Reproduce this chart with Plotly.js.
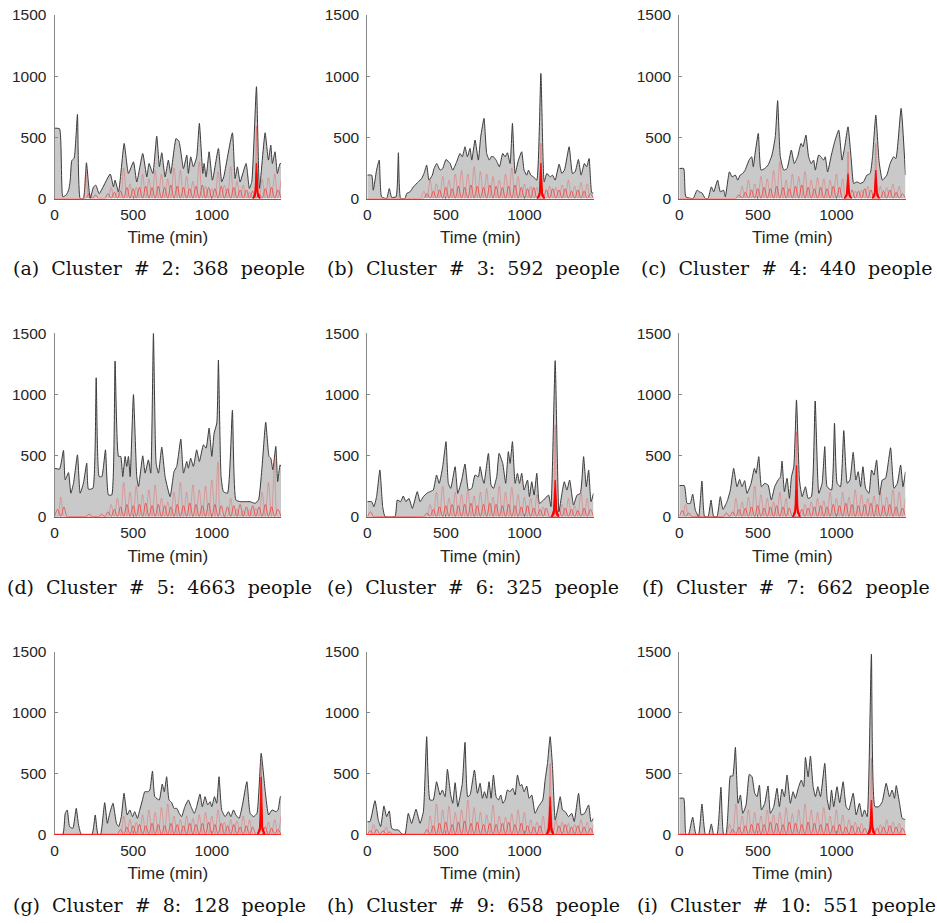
<!DOCTYPE html>
<html><head><meta charset="utf-8">
<script src="https://cdn.plot.ly/plotly-3.0.1.min.js"></script>
<style>html,body{margin:0;padding:0;background:#fff}#chart{width:937px;height:923px}</style>
</head><body><div id="chart"></div>
<script>
// ---------- data ----------
const captionLetters = ['a','b','c','d','e','f','g','h','i'];
const clusterIds = [2,3,4,5,6,7,8,9,10];
const peopleCounts = [368,592,440,4663,325,662,128,658,551];
const xTickVals = [0,500,1000];
const yTickVals = [0,500,1000,1500];

// total occupancy envelope (grey area) per cluster
const envX_a = [0,32,53,75,90,100,110,125,146,163,184,203,227,248,263,284,354,375,385,407,443,470,502,523,561,587,601,625,650,667,682,703,724,739,773,792,820,841,851,866,883,904,921,943,951,964,983,1004,1042,1063,1076,1131,1148,1163,1180,1218,1239,1254,1284,1303,1339,1360,1375,1385,1402,1417,1434,1440];
const envY_a = [575,570,15,30,70,150,310,330,687,0,0,292,0,95,109,40,200,95,150,55,450,205,300,136,368,177,286,205,510,260,374,177,314,205,491,464,245,355,205,341,259,341,614,205,286,177,382,150,409,136,177,537,164,259,136,286,82,136,914,82,537,314,436,286,382,205,286,286];
const envX_b = [0,28,38,59,76,91,123,140,155,183,198,212,240,251,272,293,325,346,361,378,393,414,425,442,463,480,501,527,544,569,590,605,622,637,654,665,686,707,722,743,760,777,788,803,820,841,862,877,892,909,924,941,962,983,998,1015,1026,1041,1058,1079,1105,1126,1143,1164,1179,1196,1221,1238,1255,1285,1306,1323,1344,1361,1382,1397,1412,1429,1440];
const envY_b = [191,191,68,232,314,14,0,82,10,14,374,0,0,41,55,95,136,164,205,273,150,191,245,286,232,245,319,286,232,300,368,341,423,341,409,314,477,314,505,655,368,314,341,341,314,259,368,341,374,286,614,205,314,382,232,191,232,191,177,150,1023,136,205,177,191,150,281,205,232,423,205,218,319,191,286,259,327,46,46];
const envX_c = [0,28,42,88,113,127,144,166,183,204,219,244,261,282,293,319,336,357,372,387,404,419,444,461,471,482,503,520,544,565,590,611,626,643,665,686,713,732,753,775,787,806,823,840,855,866,887,902,919,929,944,968,989,1015,1036,1053,1074,1095,1110,1131,1152,1173,1194,1215,1230,1251,1272,1293,1321,1342,1364,1379,1412,1440];
const envY_c = [245,245,14,0,68,55,46,0,0,95,55,150,55,68,14,218,177,191,150,191,205,232,314,341,259,363,532,232,245,273,355,505,800,341,232,245,396,286,341,450,423,518,341,286,314,232,355,341,314,341,218,355,464,559,314,423,586,314,123,136,123,136,191,205,341,682,300,150,191,286,341,327,736,191];
const envX_d = [0,32,57,68,89,104,121,146,163,184,205,216,244,265,284,301,324,343,364,385,407,421,434,449,459,470,481,502,523,534,561,576,597,612,629,646,661,682,703,735,760,777,803,820,841,851,866,883,904,921,947,964,983,1000,1015,1032,1042,1059,1074,1100,1131,1153,1180,1212,1244,1275,1297,1318,1343,1364,1375,1388,1407,1419,1434,1440];
const envY_d = [397,389,542,301,361,192,274,506,192,274,438,224,233,1136,328,328,547,178,178,1273,493,493,328,493,411,493,328,999,328,246,498,356,465,356,1500,438,356,569,328,164,369,411,635,356,452,397,479,411,547,452,588,561,725,493,684,766,1281,328,205,192,870,137,123,123,123,109,137,383,772,493,479,383,575,287,424,411];
const envX_e = [0,28,42,59,80,98,113,176,191,212,229,246,265,287,318,336,357,378,399,420,441,458,480,501,516,531,559,576,601,622,644,665,686,707,718,733,743,771,788,803,824,839,862,881,898,909,924,941,956,969,983,998,1020,1032,1047,1062,1079,1096,1122,1154,1169,1196,1220,1239,1254,1271,1288,1313,1335,1356,1377,1394,1409,1424,1440];
const envY_e = [123,123,82,164,382,82,0,0,136,123,169,123,150,68,205,123,164,191,205,218,341,273,409,614,273,232,409,191,300,431,218,232,341,327,409,314,273,518,259,232,327,518,436,273,532,436,614,273,355,273,355,218,300,164,286,177,355,109,136,177,82,1276,41,191,286,218,300,95,177,191,491,245,382,123,191];
const envX_f = [0,32,49,70,85,102,123,144,161,183,202,219,240,261,278,304,325,346,367,384,399,416,431,457,478,489,506,523,544,565,586,607,629,644,654,669,686,701,714,729,746,765,782,803,820,841,865,888,909,926,941,969,988,1005,1026,1047,1069,1086,1107,1124,1139,1154,1169,1186,1207,1224,1239,1256,1275,1292,1313,1345,1367,1388,1409,1424,1440];
const envY_f = [254,254,109,109,185,55,0,292,0,0,136,0,0,164,60,123,218,395,245,305,245,295,191,273,395,355,491,245,273,259,136,245,300,327,455,205,314,150,327,409,955,300,164,245,150,164,946,191,273,573,245,218,764,273,245,704,273,300,527,300,368,245,409,232,191,382,341,464,177,300,314,564,232,273,423,245,368];
const envX_g = [0,53,68,81,96,117,138,153,170,238,259,276,293,319,336,351,372,394,408,425,442,462,479,496,510,527,542,559,574,596,606,623,638,666,685,698,713,728,745,760,777,793,808,829,851,868,889,904,925,940,957,974,989,1000,1017,1031,1046,1063,1085,1106,1121,1138,1153,1174,1195,1223,1244,1266,1287,1314,1340,1361,1383,1408,1421,1436,1440];
const envY_g = [0,0,172,200,63,49,213,77,0,0,159,0,0,260,90,172,255,90,63,145,337,159,200,145,186,131,200,282,350,350,364,520,309,282,413,350,473,282,260,213,213,172,145,227,282,227,172,227,331,227,309,241,268,227,309,255,473,200,145,186,145,200,159,131,241,432,172,145,172,665,350,159,200,186,200,309,309];
const envX_h = [0,17,49,70,85,106,123,140,155,176,198,212,225,240,261,282,310,336,357,378,399,420,441,463,478,495,510,531,544,559,576,590,605,622,639,654,682,701,718,733,746,760,775,788,803,820,835,850,863,877,892,909,926,941,956,973,983,998,1015,1030,1047,1068,1089,1117,1132,1147,1164,1179,1196,1211,1228,1243,1260,1281,1302,1317,1345,1362,1383,1409,1424,1440];
const envY_h = [104,104,276,118,63,233,145,192,49,36,36,14,0,0,172,90,205,90,186,802,282,282,432,323,364,309,534,323,255,424,227,309,419,755,309,323,528,337,419,296,350,296,432,296,487,309,282,323,255,282,364,350,378,323,487,396,410,350,396,296,323,172,227,282,446,583,802,555,118,200,309,200,186,145,172,104,337,159,172,241,104,131];
const envX_i = [0,28,42,59,85,106,123,144,166,187,204,219,240,265,282,297,314,325,340,357,374,389,404,425,446,463,480,495,510,523,544,565,580,601,622,637,654,669,686,707,724,739,760,777,792,803,820,835,852,867,882,899,926,941,956,969,983,1004,1021,1043,1062,1079,1107,1126,1147,1164,1179,1196,1223,1245,1270,1292,1317,1338,1355,1370,1381,1402,1419,1434,1440];
const envY_i = [296,296,0,0,140,0,0,249,0,0,85,0,0,386,0,0,282,479,479,714,255,323,172,241,493,473,337,309,405,200,255,397,172,227,378,227,372,309,487,255,350,296,391,446,391,632,473,643,391,309,391,309,583,296,200,364,227,391,260,432,227,200,337,159,255,145,200,145,1481,227,227,268,419,309,364,296,400,255,131,123,123];

// individual trajectories (red lines), sampled every 20 min
const redX = [0,20,40,60,80,100,120,140,160,180,200,220,240,260,280,300,320,340,360,380,400,420,440,460,480,500,520,540,560,580,600,620,640,660,680,700,720,740,760,780,800,820,840,860,880,900,920,940,960,980,1000,1020,1040,1060,1080,1100,1120,1140,1160,1180,1200,1220,1240,1260,1280,1300,1320,1340,1360,1380,1400,1420,1440];
const redLow_a = [0,0,0,0,0,0,0,0,0,0,0,40,0,30,0,0,0,40,0,50,0,60,0,90,0,80,0,90,0,100,0,90,0,100,0,90,0,110,0,100,0,90,0,80,0,100,0,110,0,90,0,80,0,100,0,80,0,90,0,70,0,70,0,60,0,40,0,80,0,90,0,70,0];
const redMid_a = [0,0,0,0,0,0,0,0,0,0,220,0,0,0,0,0,0,0,90,0,60,0,250,0,120,0,90,0,200,0,160,0,230,0,200,0,160,0,250,0,230,0,180,0,140,0,300,0,100,0,80,0,220,0,110,0,260,0,140,0,110,0,50,0,0,0,160,0,170,0,200,0,150];
const redLow_b = [0,0,0,0,0,0,0,0,0,0,0,0,0,0,0,0,0,0,0,40,0,60,0,70,0,90,0,80,0,100,0,90,0,110,0,100,0,90,0,110,0,100,0,90,0,100,0,110,0,90,0,80,0,90,0,0,0,70,0,80,0,70,0,80,0,60,0,70,0,60,0,40,0];
const redMid_b = [0,0,0,0,0,0,0,0,0,0,0,0,0,0,0,0,0,0,60,0,150,0,120,0,180,0,150,0,200,0,230,0,200,0,260,0,220,0,200,0,180,0,150,0,200,0,250,0,180,0,120,0,100,0,90,0,0,0,100,0,90,0,110,0,150,0,100,0,130,0,120,0,0];
const redLow_c = [0,0,0,0,0,0,0,0,0,0,0,0,0,0,0,0,0,0,0,30,0,50,0,70,0,80,0,90,0,80,0,100,0,90,0,80,0,100,0,110,0,90,0,80,0,90,0,80,0,100,0,90,0,0,0,70,0,60,0,80,0,70,0,0,0,60,0,70,0,50,0,40,0];
const redMid_c = [0,0,0,0,0,0,0,0,0,0,0,0,0,0,0,0,0,0,0,0,100,0,150,0,120,0,180,0,160,0,230,0,300,0,150,0,200,0,180,0,220,0,150,0,170,0,160,0,150,0,200,0,160,0,0,0,60,0,70,0,100,0,0,0,100,0,90,0,120,0,100,0,0];
const redLow_d = [0,60,0,80,0,0,0,0,0,0,0,20,0,0,0,20,0,40,0,60,0,80,0,100,0,90,0,100,0,110,0,90,0,100,0,90,0,80,0,100,0,90,0,110,0,100,0,90,0,110,0,100,0,90,0,80,0,90,0,100,0,80,0,90,0,80,0,100,0,80,0,60,0];
const redMid_d = [0,0,160,0,0,0,0,0,0,0,0,0,0,0,0,0,0,0,100,0,150,0,280,0,200,0,250,0,180,0,220,0,260,0,150,0,120,0,200,0,280,0,200,0,260,0,220,0,250,0,300,0,450,0,0,0,150,0,60,0,50,0,60,0,70,0,200,0,280,0,480,0,0];
const redLow_e = [0,40,0,0,0,0,0,0,0,0,0,0,0,0,0,0,0,0,0,30,0,60,0,80,0,90,0,100,0,90,0,100,0,110,0,90,0,100,0,110,0,100,0,90,0,100,0,90,0,80,0,90,0,70,0,60,0,70,0,0,0,60,0,70,0,60,0,50,0,70,0,60,0];
const redMid_e = [0,0,0,0,0,0,0,0,0,0,0,0,0,0,0,0,0,0,0,0,100,0,200,0,250,0,150,0,200,0,180,0,220,0,170,0,200,0,230,0,160,0,250,0,200,0,240,0,180,0,160,0,150,0,180,0,80,0,0,0,0,0,100,0,150,0,90,0,200,0,150,0,0];
const redLow_f = [0,50,0,30,0,0,0,0,0,0,0,0,0,0,0,30,0,40,0,60,0,70,0,80,0,90,0,70,0,80,0,90,0,80,0,70,0,0,0,60,0,70,0,80,0,90,0,80,0,100,0,90,0,110,0,100,0,90,0,100,0,110,0,100,0,90,0,100,0,80,0,70,0];
const redMid_f = [0,0,100,0,0,0,0,0,0,0,0,0,0,0,0,0,0,0,150,0,120,0,160,0,250,0,180,0,150,0,120,0,200,0,150,0,0,0,0,0,100,0,120,0,150,0,130,0,200,0,150,0,200,0,160,0,220,0,180,0,150,0,170,0,200,0,160,0,220,0,200,0,150];
const redLow_g = [0,0,0,0,0,0,0,0,0,0,0,0,0,0,0,0,0,0,0,0,0,40,0,60,0,70,0,80,0,70,0,90,0,80,0,70,0,90,0,80,0,70,0,90,0,80,0,90,0,100,0,80,0,90,0,70,0,80,0,60,0,70,0,60,0,0,0,60,0,50,0,40,0];
const redMid_g = [0,0,0,0,0,0,0,0,0,0,0,0,0,0,0,0,0,0,0,0,0,0,150,0,120,0,100,0,160,0,200,0,180,0,220,0,250,0,150,0,120,0,150,0,130,0,160,0,180,0,150,0,200,0,100,0,120,0,110,0,150,0,120,0,0,0,0,0,100,0,120,0,150];
const redLow_h = [0,30,0,40,0,30,0,20,0,0,0,0,0,0,0,0,0,0,0,40,0,70,0,90,0,100,0,80,0,100,0,110,0,90,0,100,0,80,0,90,0,80,0,90,0,100,0,80,0,90,0,70,0,60,0,70,0,0,0,0,0,70,0,80,0,60,0,70,0,60,0,50,0];
const redMid_h = [0,0,80,0,0,0,60,0,0,0,0,0,0,0,0,0,0,0,0,0,150,0,250,0,200,0,230,0,180,0,200,0,280,0,220,0,180,0,160,0,240,0,150,0,140,0,170,0,200,0,180,0,120,0,100,0,150,0,0,0,120,0,100,0,90,0,80,0,120,0,100,0,80];
const redLow_i = [0,0,0,0,0,0,0,0,0,0,0,0,0,0,0,0,0,40,0,60,0,70,0,80,0,90,0,80,0,100,0,90,0,80,0,100,0,90,0,80,0,100,0,90,0,80,0,90,0,70,0,80,0,60,0,70,0,60,0,50,0,0,0,50,0,60,0,70,0,60,0,50,0];
const redMid_i = [0,0,0,0,0,0,0,0,0,0,0,0,0,0,0,0,80,0,250,0,150,0,200,0,180,0,150,0,200,0,160,0,180,0,220,0,170,0,200,0,250,0,200,0,180,0,220,0,150,0,200,0,160,0,120,0,100,0,90,0,0,0,0,0,80,0,120,0,100,0,90,0,0];

// synchronised trajectories forming the red spikes
const spikeX_a = [1262,1276,1284,1292,1306];
const spikeY_a = [[0,30,590,30,0],[0,50,290,50,0],[0,40,220,40,0],[0,30,160,30,0],[0,20,110,20,0]];
const spikeX_b = [1083,1097,1105,1113,1127];
const spikeY_b = [[0,40,450,40,0],[0,50,290,50,0],[0,40,220,40,0],[0,30,160,30,0],[0,20,110,20,0]];
const spikeX_c = [1052,1066,1074,1082,1096];
const spikeY_c = [[0,40,382,40,0],[0,40,205,40,0],[0,30,150,30,0],[0,20,100,20,0]];
const spikeX_c2 = [1229,1243,1251,1259,1273];
const spikeY_c2 = [[0,40,450,40,0],[0,50,232,50,0],[0,30,170,30,0],[0,20,110,20,0]];
const spikeX_e = [1174,1188,1196,1204,1218];
const spikeY_e = [[0,60,750,60,0],[0,60,300,60,0],[0,40,230,40,0],[0,30,170,30,0],[0,20,120,20,0]];
const spikeX_f = [724,738,746,754,768];
const spikeY_f = [[0,60,695,60,0],[0,60,420,60,0],[0,50,218,50,0],[0,40,160,40,0],[0,30,110,30,0]];
const spikeX_g = [1292,1306,1314,1322,1336];
const spikeY_g = [[0,60,600,60,0],[0,60,473,60,0],[0,50,255,50,0],[0,40,180,40,0],[0,30,120,30,0]];
const spikeX_h = [1142,1156,1164,1172,1186];
const spikeY_h = [[0,150,580,150,0],[0,60,310,60,0],[0,40,230,40,0],[0,30,160,30,0],[0,20,110,20,0]];
const spikeX_i = [1201,1215,1223,1231,1245];
const spikeY_i = [[0,60,624,60,0],[0,60,282,60,0],[0,40,210,40,0],[0,30,150,30,0],[0,20,100,20,0]];

// ---------- assembly ----------
const panels = [
  {envX:envX_a, envY:envY_a, low:redLow_a, mid:redMid_a, spikes:[[spikeX_a,spikeY_a]]},
  {envX:envX_b, envY:envY_b, low:redLow_b, mid:redMid_b, spikes:[[spikeX_b,spikeY_b]]},
  {envX:envX_c, envY:envY_c, low:redLow_c, mid:redMid_c, spikes:[[spikeX_c,spikeY_c],[spikeX_c2,spikeY_c2]]},
  {envX:envX_d, envY:envY_d, low:redLow_d, mid:redMid_d, spikes:[]},
  {envX:envX_e, envY:envY_e, low:redLow_e, mid:redMid_e, spikes:[[spikeX_e,spikeY_e]]},
  {envX:envX_f, envY:envY_f, low:redLow_f, mid:redMid_f, spikes:[[spikeX_f,spikeY_f]]},
  {envX:envX_g, envY:envY_g, low:redLow_g, mid:redMid_g, spikes:[[spikeX_g,spikeY_g]]},
  {envX:envX_h, envY:envY_h, low:redLow_h, mid:redMid_h, spikes:[[spikeX_h,spikeY_h]]},
  {envX:envX_i, envY:envY_i, low:redLow_i, mid:redMid_i, spikes:[[spikeX_i,spikeY_i]]}
];

const W = 937, H = 923;
const colL = [54.5, 367.3, 679.3], colR = [281, 593.5, 905.5];
const rowT = [15, 333.3, 651.7], rowB = [198.5, 516.7, 834.3];
const capX = [159, 473, 786], capY = [268, 587, 905];
const tickFont = {family: 'Liberation Sans, Arial, sans-serif', size: 15.5, color: '#262626'};
const SP = '\u00A0\u00A0';

const traces = [];
const layout = {
  width: W, height: H, margin: {l:0, r:0, t:0, b:0},
  paper_bgcolor: '#fff', plot_bgcolor: 'rgba(0,0,0,0)', showlegend: false,
  annotations: []
};

panels.forEach((p, i) => {
  const r = Math.floor(i / 3), c = i % 3, n = i + 1;
  const sfx = n === 1 ? '' : String(n);
  const xa = 'x' + sfx, ya = 'y' + sfx;
  traces.push({type:'scatter', mode:'lines', x:p.envX, y:p.envY, fill:'tozeroy',
    fillcolor:'rgb(201,201,201)', line:{color:'#3a3a3a', width:1, shape:'spline', smoothing:0.45},
    xaxis:xa, yaxis:ya, hoverinfo:'skip'});
  traces.push({type:'scatter', mode:'lines', x:redX, y:p.mid, line:{color:'rgba(240,70,70,0.35)', width:1, shape:'spline', smoothing:0.9},
    xaxis:xa, yaxis:ya, hoverinfo:'skip'});
  traces.push({type:'scatter', mode:'lines', x:redX, y:p.low, line:{color:'rgba(255,0,0,0.5)', width:1, shape:'spline', smoothing:0.9},
    xaxis:xa, yaxis:ya, hoverinfo:'skip'});
  p.spikes.forEach(([sx, rows]) => {
    rows.forEach((sy, k) => {
      traces.push({type:'scatter', mode:'lines', x:sx, y:sy,
        line:{color: k === 0 ? 'rgba(240,80,80,0.45)' : 'rgba(255,0,0,0.9)', width: k === 0 ? 1 : 1.4},
        xaxis:xa, yaxis:ya, hoverinfo:'skip'});
    });
  });
  layout['xaxis' + sfx] = {
    domain:[colL[c]/W, colR[c]/W], range:[0,1440], anchor:ya,
    tickvals:xTickVals, ticktext:xTickVals.map(String), ticks:'inside', ticklen:3, tickcolor:'#888',
    showline:true, linecolor:'rgba(255,0,0,0.85)', linewidth:1, showgrid:false, zeroline:false,
    tickfont:tickFont, ticklabelstandoff:2,
    title:{text:'Time (min)', font:{family:'Liberation Sans, Arial, sans-serif', size:17, color:'#262626'}, standoff:9}
  };
  layout['yaxis' + sfx] = {
    domain:[1 - rowB[r]/H, 1 - rowT[r]/H], range:[0,1500], anchor:xa,
    tickvals:yTickVals, ticktext:yTickVals.map(String), ticks:'inside', ticklen:3, tickcolor:'#888',
    showline:true, linecolor:'#8a8a8a', linewidth:1, showgrid:false, zeroline:false,
    tickfont:tickFont, ticklabelstandoff:4
  };
  layout.annotations.push({
    xref:'paper', yref:'paper', x:capX[c]/W, y:1 - capY[r]/H, xanchor:'center', yanchor:'middle',
    showarrow:false,
    text:'(' + captionLetters[i] + ')' + SP + 'Cluster' + SP + '#' + SP + clusterIds[i] + ':' + SP + peopleCounts[i] + SP + 'people',
    font:{family:'DejaVu Serif, Liberation Serif, serif', size:19, color:'#111'}
  });
});

Plotly.newPlot('chart', traces, layout, {staticPlot:true, displayModeBar:false});
</script>
</body></html>
